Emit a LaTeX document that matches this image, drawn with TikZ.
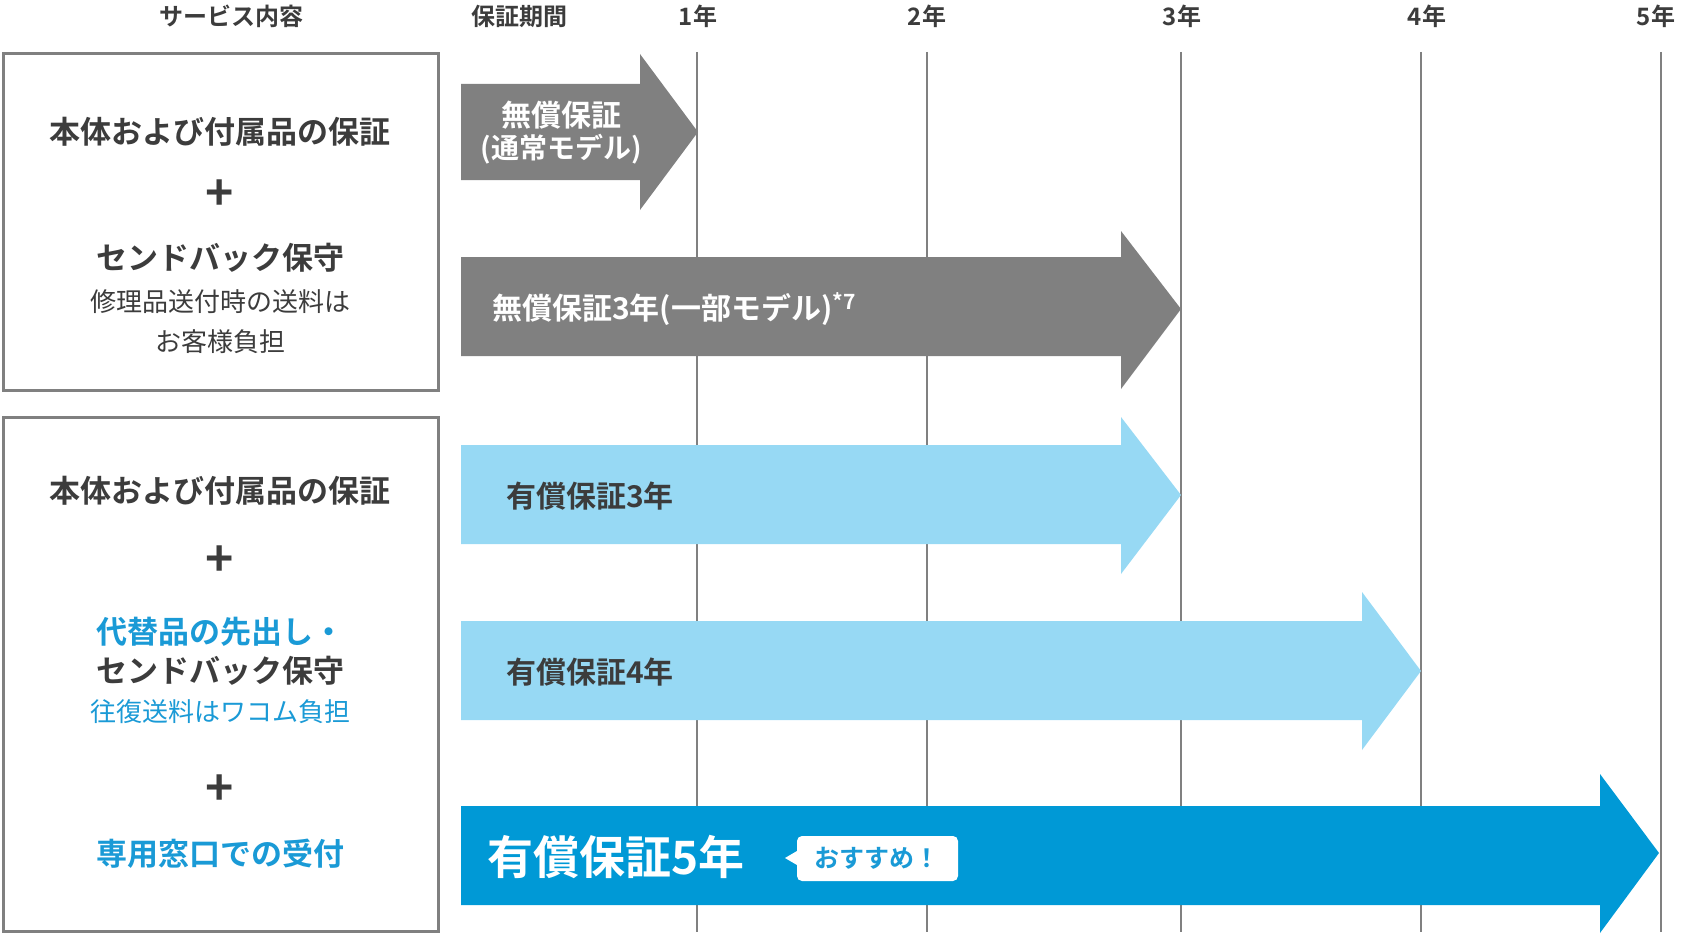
\documentclass[tikz,border=0pt]{standalone}
\usepackage{fontspec}
\setmainfont{Noto Sans CJK JP}
\newfontfamily\jpb{Noto Sans CJK JP Bold}
\definecolor{dk}{HTML}{3C3C3C}
\definecolor{gr}{HTML}{808080}
\definecolor{lb}{HTML}{97D9F4}
\definecolor{bb}{HTML}{0099D6}
\definecolor{bt}{HTML}{1A9AD6}
\begin{document}
\begin{tikzpicture}[x=1pt,y=-1pt,
 hdr/.style={font=\jpb\fontsize{24}{26}\selectfont,text=dk,inner sep=0},
 bt1/.style={font=\jpb\fontsize{31}{33}\selectfont,text=dk,inner sep=0},
 rg/.style={font=\fontsize{26}{28}\selectfont,text=dk,inner sep=0},
 plus/.style={font=\jpb\fontsize{48}{48}\selectfont,text=dk,inner sep=0},
 arrtxt/.style={font=\jpb\fontsize{30}{32}\selectfont,inner sep=0},
 box/.style={draw=gr,line width=3pt},
 vl/.style={draw=gr,line width=2pt}]
\useasboundingbox (0,0) rectangle (1682,934);
% grid lines
\foreach \x/\n in {697/1,927/2,1181/3,1421/4,1661/5}{
 \coordinate (t\n) at (\x,52); \coordinate (b\n) at (\x,932);
 \draw[vl] (t\n) -- (b\n);}
\node[hdr] (h0) at (231,16) {サービス内容};
\node[hdr] (h1) at (519,16) {保証期間};
\node[hdr] (y1) at (698,16) {1年};
\node[hdr] (y2) at (927,16) {2年};
\node[hdr] (y3) at (1182,16) {3年};
\node[hdr] (y4) at (1427,16) {4年};
\node[hdr] (y5) at (1656,16) {5年};
% boxes
\draw[box,fill=white] (3,54) rectangle (438,390);
\draw[box,fill=white] (3,417) rectangle (438,931);
\node[bt1] (a1) at (220,132) {本体および付属品の保証};
\node[plus] (a2) at (220,195) {+};
\node[bt1] (a3) at (220,258) {センドバック保守};
\node[rg] (a4) at (220,302) {修理品送付時の送料は};
\node[rg] (a5) at (220,342) {お客様負担};
\node[bt1] (c1) at (220,491) {本体および付属品の保証};
\node[plus] (c2) at (220,561) {+};
\node[bt1,text=bt] (c3) at (220,632) {代替品の先出し・};
\node[bt1] (c4) at (220,671) {センドバック保守};
\node[rg,text=bt] (c5) at (220,712) {往復送料はワコム負担};
\node[plus] (c6) at (220,790) {+};
\node[bt1,text=bt] (c7) at (220,854) {専用窓口での受付};
% arrows
\fill[gr] (461,84) -- (640,84) -- (640,54) -- (698,132) -- (640,210) -- (640,180) -- (461,180) -- cycle;
\fill[gr] (461,257) -- (1121,257) -- (1121,231) -- (1181,309) -- (1121,389) -- (1121,356) -- (461,356) -- cycle;
\fill[lb] (461,445) -- (1121,445) -- (1121,417) -- (1181,495) -- (1121,574) -- (1121,544) -- (461,544) -- cycle;
\fill[lb] (461,621) -- (1362,621) -- (1362,592) -- (1421,671) -- (1362,750) -- (1362,720) -- (461,720) -- cycle;
\fill[bb] (461,806) -- (1600,806) -- (1600,774) -- (1659,853) -- (1600,933) -- (1600,905) -- (461,905) -- cycle;
\node[arrtxt,text=white] (r1) at (561,115) {無償保証};
\node[arrtxt,text=white,font=\jpb\fontsize{28}{30}\selectfont] (r2) at (561,149) {(通常モデル)};
\node[arrtxt,text=white,anchor=west] (r3) at (492,309) {無償保証3年(一部モデル)\textsuperscript{*7}};
\node[arrtxt,text=dk,anchor=west] (r4) at (506,496) {有償保証3年};
\node[arrtxt,text=dk,anchor=west] (r5) at (506,672) {有償保証4年};
\node[arrtxt,text=white,anchor=west,font=\jpb\fontsize{46}{48}\selectfont] (r6) at (487,857) {有償保証5年};
\fill[white,rounded corners=5pt] (797,836) rectangle (958,881);
\fill[white] (797,851) -- (785,858) -- (797,865) -- cycle;
\node[arrtxt,text=bt,font=\jpb\fontsize{25}{27}\selectfont] (bd) at (877,858) {おすすめ！};
\end{tikzpicture}
\end{document}
